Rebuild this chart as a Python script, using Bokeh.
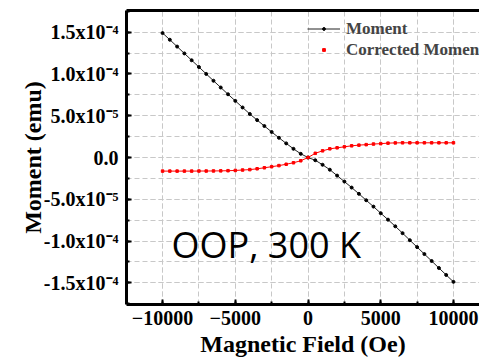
from bokeh.plotting import figure
from bokeh.models import (Range1d, SingleIntervalTicker, FixedTicker, LinearAxis,
                          CustomJSTickFormatter, Legend, LegendItem, Label)
from bokeh.embed import file_html
from bokeh.resources import INLINE

# ---- data ----
field = [-10000, -9500, -9000, -8500, -8000, -7500, -7000, -6500, -6000, -5500,
         -5000, -4500, -4000, -3500, -3000, -2500, -2000, -1500, -1000, -500,
         0, 500, 1000, 1500, 2000, 2500, 3000, 3500, 4000, 4500,
         5000, 5500, 6000, 6500, 7000, 7500, 8000, 8500, 9000, 9500, 10000]

moment = [14.90e-5, 14.10e-5, 13.28e-5, 12.46e-5, 11.64e-5, 10.83e-5, 10.01e-5, 9.19e-5, 8.38e-5, 7.57e-5,
          6.78e-5, 5.99e-5, 5.21e-5, 4.48e-5, 3.77e-5, 3.06e-5, 2.36e-5, 1.69e-5, 1.04e-5, 0.44e-5,
          0.0, -0.33e-5, -0.87e-5, -1.46e-5, -2.17e-5, -2.88e-5, -3.60e-5, -4.35e-5, -5.12e-5, -5.88e-5,
          -6.67e-5, -7.44e-5, -8.24e-5, -9.06e-5, -9.90e-5, -10.73e-5, -11.56e-5, -12.39e-5, -13.23e-5, -14.06e-5, -14.89e-5]

corrected = [-1.63e-5, -1.63e-5, -1.63e-5, -1.63e-5, -1.63e-5, -1.62e-5, -1.62e-5, -1.61e-5, -1.60e-5, -1.58e-5,
             -1.55e-5, -1.50e-5, -1.45e-5, -1.35e-5, -1.23e-5, -1.10e-5, -0.97e-5, -0.81e-5, -0.63e-5, -0.39e-5,
             0.0, 0.50e-5, 0.80e-5, 1.04e-5, 1.16e-5, 1.28e-5, 1.40e-5, 1.48e-5, 1.54e-5, 1.61e-5,
             1.66e-5, 1.72e-5, 1.75e-5, 1.76e-5, 1.76e-5, 1.76e-5, 1.76e-5, 1.76e-5, 1.76e-5, 1.76e-5, 1.76e-5]

y_tick_values = [-1.5e-4, -1.0e-4, -5.0e-5, 0.0, 5.0e-5, 1.0e-4, 1.5e-4]
y_tick_labels = ["-1.5x10\u207b\u2074", "-1.0x10\u207b\u2074", "-5.0x10\u207b\u2075", "0.0",
                 "5.0x10\u207b\u2075", "1.0x10\u207b\u2074", "1.5x10\u207b\u2074"]

SERIF = "Liberation Serif"

p = figure(width=479, height=359, output_backend="svg", toolbar_location=None,
           x_range=Range1d(-12480, 11790), y_range=Range1d(-1.76e-4, 1.76e-4),
           min_border_left=126, min_border_right=0, min_border_top=10, min_border_bottom=54)
p.outline_line_color = None
p.background_fill_color = "white"
p.border_fill_color = "white"

# axes
xax = p.xaxis[0]
yax = p.yaxis[0]
xax.ticker = SingleIntervalTicker(interval=5000, num_minor_ticks=2)
yax.ticker = SingleIntervalTicker(interval=5e-5, num_minor_ticks=2)
yax.formatter = CustomJSTickFormatter(args=dict(vals=y_tick_values, labels=y_tick_labels), code="""
    for (let i = 0; i < vals.length; i++) {
        if (Math.abs(vals[i] - tick) < 1e-9) { return labels[i]; }
    }
    return "";
""")
for ax in (xax, yax):
    ax.axis_line_width = 3
    ax.axis_line_color = "black"
    ax.major_tick_in = 5
    ax.major_tick_out = 0
    ax.minor_tick_in = 3
    ax.minor_tick_out = 0
    ax.major_tick_line_width = 2
    ax.minor_tick_line_width = 2
    ax.major_label_text_font = SERIF
    ax.major_label_text_font_style = "bold"
    ax.major_label_text_font_size = "20px"
    ax.major_label_text_color = "black"
    ax.axis_label_text_font = SERIF
    ax.axis_label_text_font_style = "bold"
    ax.axis_label_text_font_size = "24px"
    ax.axis_label_text_color = "black"
xax.axis_label = "Magnetic Field (Oe)"
yax.axis_label = "Moment (emu)"
xax.major_label_standoff = 6
yax.major_label_standoff = 8
xax.axis_label_standoff = 3
xax.axis_label_text_line_height = 0.5
yax.axis_label_standoff = -5

top = LinearAxis(ticker=FixedTicker(ticks=[]), axis_line_width=3, axis_line_color="black",
                 major_tick_line_color=None, minor_tick_line_color=None,
                 major_label_text_font_size="0px")
p.add_layout(top, "above")

# grids
for g, t in ((p.xgrid[0], xax.ticker), (p.ygrid[0], yax.ticker)):
    g.ticker = t
    g.grid_line_color = "#c8c8c8"
    g.grid_line_dash = "5 3"
    g.grid_line_width = 1
    g.minor_grid_line_color = "#c8c8c8"
    g.minor_grid_line_dash = "5 3"
    g.minor_grid_line_width = 1

# data
l1 = p.line(field, moment, line_color="#222222", line_width=1)
s1 = p.scatter(field, moment, marker="circle", size=3, fill_color="black", line_color="black")
l2 = p.line(field, corrected, line_color="red", line_width=1)
s2 = p.scatter(field, corrected, marker="square", size=2.5, fill_color="red", line_color="red")

legend = Legend(items=[LegendItem(label="Moment", renderers=[l1, s1]),
                       LegendItem(label="Corrected Moment", renderers=[s2])],
                location=(181, 244), padding=0, margin=0, spacing=0,
                label_height=21, glyph_height=7, glyph_width=33, label_standoff=6,
                label_text_font=SERIF, label_text_font_style="bold", label_text_font_size="17px",
                background_fill_alpha=0, border_line_color=None)
p.add_layout(legend)

p.add_layout(Label(x=45, y=60, x_units="screen", y_units="screen", text="OOP, 300 K",
                   text_font="Open Sans", text_font_size="36px", text_color="black",
                   text_baseline="alphabetic"))

open("out.html", "w").write(file_html(p, INLINE))
